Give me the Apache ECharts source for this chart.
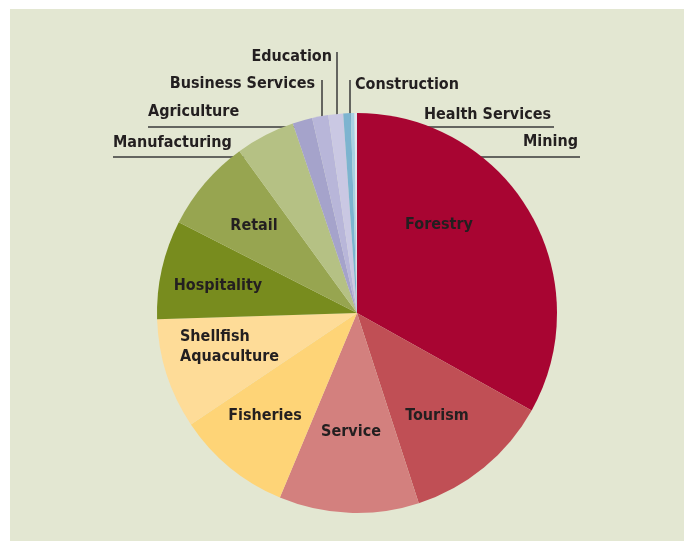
<!DOCTYPE html>
<html>
<head>
<meta charset="utf-8">
<script src="https://cdn.jsdelivr.net/npm/echarts@6/dist/echarts.min.js"></script>
<style>
html,body{margin:0;padding:0;background:#ffffff;}
#chart{width:684px;height:541px;}
</style>
</head>
<body>
<div id="chart"></div>
<script>
// Sectors (clockwise from 12 o'clock) and their shares (%)
const categories = ['Forestry','Tourism','Service','Fisheries','Shellfish\nAquaculture','Hospitality','Retail','Manufacturing','Agriculture','Business Services','Education','Construction','Health Services','Mining'];
const shares = [33.1, 11.9, 11.3, 9.3, 8.9, 8.0, 7.5, 4.8, 1.6, 1.3, 1.2, 0.6, 0.3, 0.2];
const colors = ['#a80532','#c04f55','#d3807e','#fed477','#fedc98','#788c1e','#97a550','#b5c184','#a5a3cb','#b8b6d9','#cac8e3','#7db4d0','#a8d0e3','#dfe6ef'];
const outsideLabels = ['Manufacturing','Agriculture','Business Services','Education','Construction','Health Services','Mining'];

// label placement (layout only)
const labelPlace = {
  'Forestry': {x:439, y:225, align:'center'},
  'Tourism': {x:437, y:416, align:'center'},
  'Service': {x:351, y:432, align:'center'},
  'Fisheries': {x:265, y:416, align:'center'},
  'Shellfish\nAquaculture': {x:180, y:347, align:'left'},
  'Hospitality': {x:218, y:286, align:'center'},
  'Retail': {x:254, y:226, align:'center'},
  'Manufacturing': {x:113, y:143, align:'left', line:[[274,157],[200,157],[113,157]]},
  'Agriculture': {x:148, y:112, align:'left', line:[[304,127],[220,127],[148,127]]},
  'Business Services': {x:315, y:84, align:'right', line:[[322,127],[322,100],[322,80]]},
  'Education': {x:332, y:57, align:'right', line:[[337,127],[337,90],[337,52]]},
  'Construction': {x:355, y:85, align:'left', line:[[350,127],[350,100],[350,80]]},
  'Health Services': {x:551, y:115, align:'right', line:[[357,127],[450,127],[554,127]]},
  'Mining': {x:578, y:142, align:'right', line:[[359,157],[470,157],[580,157]]}
};

const FONT = '"Liberation Sans Narrow","DejaVu Sans Condensed","Noto Sans",sans-serif';

const data = categories.map((c, i) => {
  const outside = outsideLabels.indexOf(c) >= 0;
  return {
    name: c,
    value: shares[i],
    itemStyle: {color: colors[i]},
    label: {position: outside ? 'outside' : 'inside'},
    labelLine: {show: outside}
  };
});

const chart = echarts.init(document.getElementById('chart'), null, {renderer: 'canvas'});
chart.setOption({
  animation: false,
  backgroundColor: '#ffffff',
  graphic: [{
    type: 'rect', z: -10, silent: true,
    shape: {x: 10, y: 9, width: 674, height: 532},
    style: {fill: '#e3e7d2'}
  }],
  series: [{
    type: 'pie',
    center: [357, 313],
    radius: [0, 200],
    startAngle: 90,
    clockwise: true,
    avoidLabelOverlap: false,
    itemStyle: {borderWidth: 0},
    label: {
      show: true,
      formatter: '{b}',
      fontFamily: FONT,
      fontWeight: 'bold',
      fontSize: 16,
      lineHeight: 20,
      color: '#231f20'
    },
    labelLine: {
      lineStyle: {color: '#3a3a3a', width: 1.5}
    },
    emphasis: {disabled: true},
    labelLayout: function (params) {
      const name = categories[params.dataIndex];
      const p = labelPlace[name];
      const out = {x: p.x, y: p.y, align: p.align, verticalAlign: 'middle'};
      if (p.line) out.labelLinePoints = p.line;
      return out;
    },
    data: data
  }]
});
</script>
</body>
</html>
